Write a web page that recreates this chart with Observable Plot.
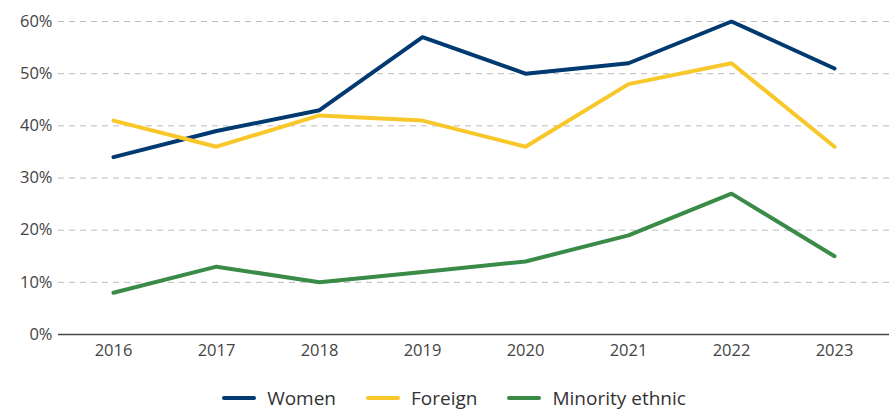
<!DOCTYPE html>
<html><head><meta charset="utf-8">
<script src="https://cdn.jsdelivr.net/npm/d3@7"></script>
<script src="https://cdn.jsdelivr.net/npm/@observablehq/plot@0.6"></script>
<style>
body{margin:0;background:#fff;font-family:"Open Sans",sans-serif;}
#legend{display:flex;justify-content:center;gap:30px;font-size:19px;color:#333;margin-top:19px;padding-left:14px;}
#legend span.item{display:flex;align-items:center;gap:11px;}
#legend span.sw{display:inline-block;width:34px;height:4px;border-radius:2px;}
</style></head><body>
<div id="chart"></div>
<div id="legend"></div>
<script>
const years = ["2016","2017","2018","2019","2020","2021","2022","2023"];
const women = [34,39,43,57,50,52,60,51];
const foreign = [41,36,42,41,36,48,52,36];
const minority = [8,13,10,12,14,19,27,15];
const seriesNames = ["Women","Foreign","Minority ethnic"];
const seriesColors = ["#003a70","#f8c729","#3a8a48"];
const yTicks = [0,10,20,30,40,50,60];

const seriesVals = [women, foreign, minority];
const data = [];
seriesNames.forEach((s,i)=>years.forEach((y,j)=>data.push({series:s,year:y,value:seriesVals[i][j]})));

const plot = Plot.plot({
  width: 894, height: 366,
  marginTop: 21, marginBottom: 32, marginLeft: 58, marginRight: 5,
  style:{fontFamily:'"Open Sans",sans-serif', fontSize:"16.5px", color:"#444"},
  x:{type:"point", domain: years, padding:0.5, label:null, tickSize:0, tickPadding:10},
  y:{domain:[0,60], ticks:yTicks, tickFormat:d=>d+"%", label:null, tickSize:0, tickPadding:6},
  color:{domain:seriesNames, range:seriesColors},
  marks:[
    Plot.gridY(yTicks.filter(d=>d>0), {stroke:"#bbb", strokeOpacity:1, strokeDasharray:"6,5", strokeWidth:1}),
    Plot.ruleY([0], {stroke:"#444", strokeWidth:1.5}),
    Plot.line(data, {x:"year", y:"value", z:"series", stroke:"series", strokeWidth:4, strokeLinejoin:"miter", strokeLinecap:"round"})
  ]
});
document.getElementById("chart").append(plot);
const lg = document.getElementById("legend");
seriesNames.forEach((s,i)=>{
  const it=document.createElement("span"); it.className="item";
  it.innerHTML=`<span class="sw" style="background:${seriesColors[i]}"></span><span>${s}</span>`;
  lg.append(it);
});
</script>
</body></html>
